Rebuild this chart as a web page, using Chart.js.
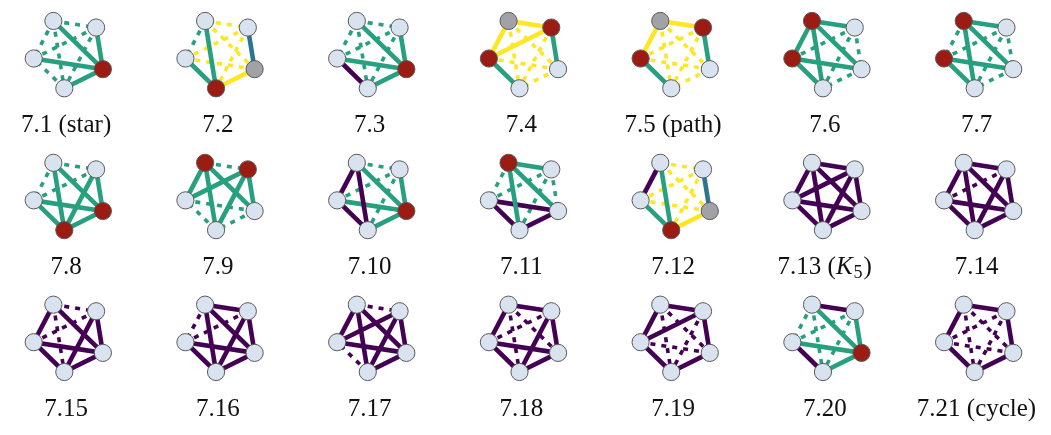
<!DOCTYPE html>
<html>
<head>
<meta charset="utf-8">
<style>
  html, body { margin: 0; padding: 0; background: #ffffff; }
  #wrap { width: 1051px; height: 435px; }
</style>
<script src="https://cdn.jsdelivr.net/npm/chart.js@4.4.1/dist/chart.umd.min.js"></script>
</head>
<body>
<div id="wrap"><canvas id="c" width="1051" height="435"></canvas></div>
<script>
// Captions, one per graph (7.1 ... 7.21), read row by row.
const graphLabels = [
  '7.1 (star)', '7.2', '7.3', '7.4', '7.5 (path)', '7.6', '7.7',
  '7.8', '7.9', '7.10', '7.11', '7.12', '7.13 (K_5)', '7.14',
  '7.15', '7.16', '7.17', '7.18', '7.19', '7.20', '7.21 (cycle)'
];

// Vertex kinds around the pentagon: top, upper-right, right, bottom, left.
// L = plain vertex, R = red vertex, G = grey vertex.
const vertexKinds = [
  'LLRLL', 'LLGRL', 'LLRLL', 'GRLLR', 'GRLLR', 'RLLLR', 'RLLLR',
  'LLRRL', 'RRLLL', 'LLRLL', 'RLLLL', 'LLGRL', 'LLLLL', 'LLLLL',
  'LLLLL', 'LLLLL', 'LLLLL', 'LLLLL', 'LLLLL', 'LLRLL', 'LLLLL'
];

// Vertex pairs, in the order used by the edge lists below.
const vertexPairs = [[0,1],[0,2],[0,3],[0,4],[1,2],[1,3],[1,4],[2,3],[2,4],[3,4]];

// Edge classes per graph: colour letter (g teal, b blue, y yellow, p purple)
// followed by '-' for an edge or ':' for a non-edge.
const edgeKinds = [
  ['g:','g-','g:','g:','g-','g:','g:','g-','g-','g:'],
  ['y:','y:','g-','g:','b-','y:','y:','y-','y:','g-'],
  ['g:','g-','g:','g:','g-','g:','g:','g-','g-','p-'],
  ['y-','y:','y:','y-','g-','y:','y-','y:','y:','g-'],
  ['y-','y:','y:','y-','g-','y:','y:','y:','y:','g-'],
  ['g-','g-','g-','g-','g:','g:','g:','g:','g-','g-'],
  ['g-','g-','g-','g:','g:','g:','g:','g:','g-','g-'],
  ['g:','g-','g-','g:','g-','g-','g:','g-','g-','g-'],
  ['g:','g-','g-','g-','g-','g-','g-','g:','g:','g:'],
  ['g:','g-','p-','p-','g-','g:','g:','g-','g-','p-'],
  ['g-','g-','g-','g:','g:','g:','g:','p-','p-','p-'],
  ['y:','y:','g-','p-','b-','y:','y:','y-','y:','g-'],
  ['p-','p-','p-','p-','p-','p-','p-','p-','p-','p-'],
  ['p-','p-','p-','p-','p-','p-','p:','p-','p-','p-'],
  ['p:','p-','p:','p-','p-','p-','p:','p-','p-','p-'],
  ['p-','p-','p-','p:','p-','p-','p:','p-','p-','p-'],
  ['p:','p-','p-','p-','p-','p-','p-','p-','p-','p:'],
  ['p-','p:','p:','p-','p-','p-','p:','p-','p-','p-'],
  ['p-','p:','p:','p-','p-','p:','p-','p-','p:','p-'],
  ['p-','g-','g:','g:','g-','g:','g:','g-','g-','p-'],
  ['p-','p:','p:','p-','p-','p:','p:','p-','p:','p-']
];

// ---- styling and layout ----
const edgeColours = { g: '#26a07f', b: '#2b7590', y: '#fde725', p: '#440154' };
const vertexColours = { L: '#d9e3ef', R: '#9b1c13', G: '#a1a1a8' };
const COLS = 7;
const colX0 = 61.6, colStep = 154.55;
const rowY0 = 45.3, rowStep = 148.4;
const RADIUS = 37.5;
const START_ANGLE = -117;  // degrees, top vertex
const LABEL_DY = 83;

function vertexPositions(g) {
  const cx = colX0 + colStep * (g % COLS);
  const cy = rowY0 + rowStep * Math.floor(g / COLS);
  const pts = [];
  for (let k = 0; k < 5; k++) {
    const a = (START_ANGLE + 72 * k) * Math.PI / 180;
    pts.push({ x: cx + RADIUS * Math.cos(a), y: cy + RADIUS * Math.sin(a) });
  }
  return pts;
}

const datasets = [];
graphLabels.forEach((label, g) => {
  const pts = vertexPositions(g);
  // vertices on top
  datasets.push({
    data: pts,
    order: 0,
    showLine: false,
    pointRadius: 8.6,
    pointHoverRadius: 8.6,
    pointBorderWidth: 1,
    pointBorderColor: '#5a5a5a',
    pointBackgroundColor: vertexKinds[g].split('').map(k => vertexColours[k])
  });
  edgeKinds[g].forEach((tok, i) => {
    const [a, b] = vertexPairs[i];
    const dashed = tok[1] === ':';
    datasets.push({
      data: [pts[a], pts[b]],
      order: dashed ? 2 : 1,
      showLine: true,
      pointRadius: 0,
      pointHoverRadius: 0,
      borderColor: edgeColours[tok[0]],
      borderWidth: dashed ? 3.6 : 4.6,
      borderDash: dashed ? [5, 6] : [],
      borderCapStyle: 'butt'
    });
  });
});

// Captions under each graph, with an italic letter and subscript for "K_5".
const captionPlugin = {
  id: 'captions',
  afterDraw(chart) {
    const ctx = chart.ctx;
    const xs = chart.scales.x, ys = chart.scales.y;
    ctx.save();
    ctx.fillStyle = '#111111';
    ctx.textBaseline = 'alphabetic';
    graphLabels.forEach((label, g) => {
      const cx = colX0 + colStep * (g % COLS) - 4;
      const cy = rowY0 + rowStep * Math.floor(g / COLS) + LABEL_DY;
      const px = xs.getPixelForValue(cx), py = ys.getPixelForValue(cy);
      const m = label.match(/^(.*)([A-Z])_(\d)(.*)$/);
      const base = '25px "Liberation Serif", "Times New Roman", serif';
      const ital = 'italic 25px "Liberation Serif", "Times New Roman", serif';
      const sub = '18px "Liberation Serif", "Times New Roman", serif';
      if (!m) {
        ctx.font = base; ctx.textAlign = 'center';
        ctx.fillText(label, px, py);
      } else {
        const parts = [[m[1], base, 0], [m[2], ital, 0], [m[3], sub, 4], [m[4], base, 0]];
        let w = 0;
        parts.forEach(p => { ctx.font = p[1]; w += ctx.measureText(p[0]).width; });
        w += 2;
        let x = px - w / 2;
        ctx.textAlign = 'left';
        parts.forEach((p, i) => {
          ctx.font = p[1];
          if (i === 2) x += 1;
          ctx.fillText(p[0], x, py + p[2]);
          x += ctx.measureText(p[0]).width;
          if (i === 2) x += 1;
        });
      }
    });
    ctx.restore();
  }
};

new Chart(document.getElementById('c'), {
  type: 'scatter',
  data: { datasets },
  options: {
    responsive: false,
    animation: false,
    events: [],
    layout: { padding: 0 },
    plugins: { legend: { display: false }, tooltip: { enabled: false } },
    scales: {
      x: { type: 'linear', min: 0, max: 1051, display: false },
      y: { type: 'linear', min: 0, max: 435, reverse: true, display: false }
    }
  },
  plugins: [captionPlugin]
});
</script>
</body>
</html>
